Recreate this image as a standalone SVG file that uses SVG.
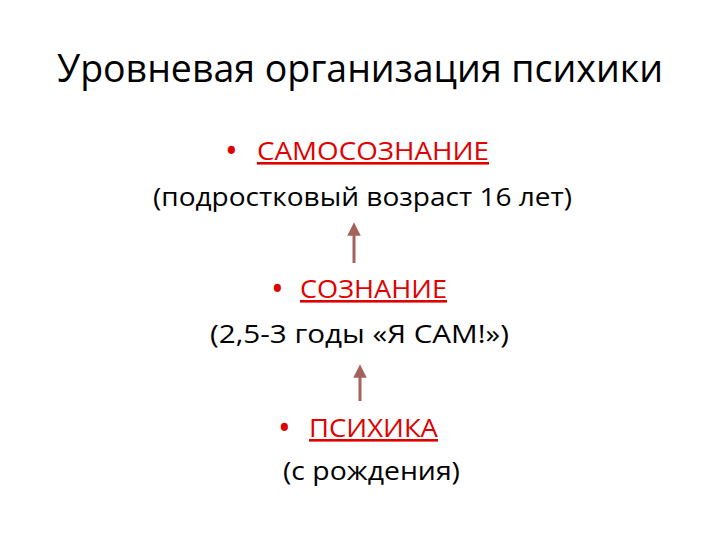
<svg xmlns="http://www.w3.org/2000/svg" width="720" height="540" viewBox="0 0 720 540">
<style>
text{font-family:"Open Sans","Noto Sans","Liberation Sans",sans-serif}
.t{font-size:38px;fill:#000}
.r{font-size:26px;fill:#e00000;text-decoration:underline}
.b{font-size:34px;fill:#e00000}
.k{font-size:26px;fill:#000}
.a{stroke:#a5625c;stroke-width:3;fill:none}
</style>
<defs>
<marker id="h" viewBox="0 0 10 10" refX="5" refY="5" markerWidth="4.5" markerHeight="4.5" orient="auto"><path d="M0,0L10,5L0,10z" fill="#a5625c"/></marker>
</defs>
<rect width="720" height="540" fill="#fff"/>
<g id="title"><text class="t" x="57" y="82" textLength="606" lengthAdjust="spacingAndGlyphs">Уровневая организация психики</text></g>
<g id="n1">
<text class="b" x="225" y="163">•</text>
<text class="r" x="257" y="160" textLength="232" lengthAdjust="spacingAndGlyphs">САМОСОЗНАНИЕ</text>
<text class="k" x="153" y="206" textLength="419" lengthAdjust="spacingAndGlyphs">(подростковый возраст 16 лет)</text>
</g>
<g id="n2">
<text class="b" x="271" y="301">•</text>
<text class="r" x="300" y="298" textLength="147" lengthAdjust="spacingAndGlyphs">СОЗНАНИЕ</text>
<text class="k" x="210" y="343" textLength="299" lengthAdjust="spacingAndGlyphs">(2,5-3 годы «Я САМ!»)</text>
</g>
<g id="n3">
<text class="b" x="278" y="440">•</text>
<text class="r" x="309" y="437" textLength="129" lengthAdjust="spacingAndGlyphs">ПСИХИКА</text>
<text class="k" x="283" y="480" textLength="177" lengthAdjust="spacingAndGlyphs">(с рождения)</text>
</g>
<g id="connectors">
<line class="a" x1="354" y1="263" x2="354" y2="229" marker-end="url(#h)"/>
<line class="a" x1="360" y1="401" x2="360" y2="371" marker-end="url(#h)"/>
</g>
</svg>
